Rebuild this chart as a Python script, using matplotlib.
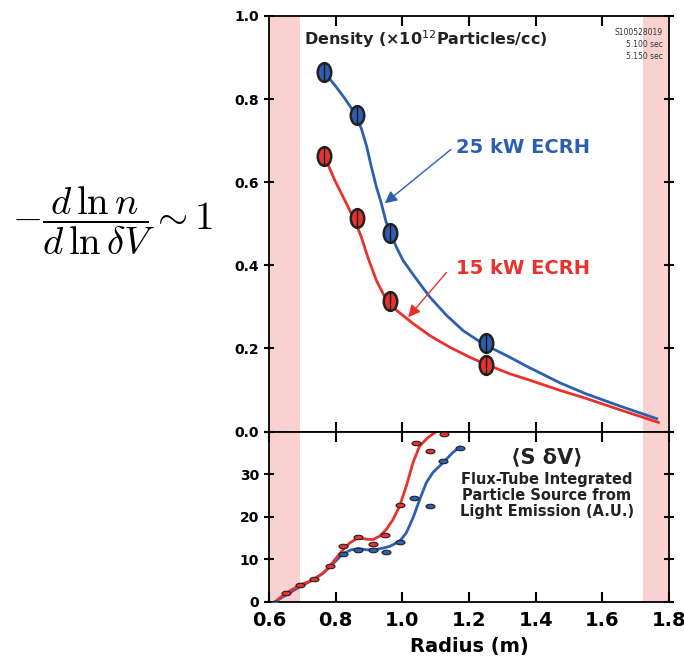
import matplotlib
matplotlib.use('Agg')
import matplotlib.pyplot as plt
from matplotlib.path import Path
from matplotlib.transforms import Affine2D

BLUE = '#2d5fb0'
RED = '#e8322b'
PINK = '#f9d1d1'

# density points (x10^12 /cc)
r_pts = [0.765, 0.864, 0.963, 1.251]
n25_pts = [0.865, 0.761, 0.477, 0.212]
n15_pts = [0.663, 0.513, 0.313, 0.159]

# fitted density curves
r25_fit = [0.767, 0.797, 0.827, 0.847, 0.860, 0.877, 0.892, 0.907, 0.922, 0.937, 0.950,
           0.962, 0.982, 1.002, 1.032, 1.082, 1.132, 1.182, 1.242, 1.322, 1.373, 1.473,
           1.55, 1.65, 1.763]
n25_fit = [0.863, 0.834, 0.802, 0.778, 0.761, 0.729, 0.689, 0.637, 0.589, 0.549, 0.508,
           0.480, 0.444, 0.412, 0.378, 0.324, 0.280, 0.243, 0.211, 0.179, 0.157, 0.117,
           0.091, 0.062, 0.031]
r15_fit = [0.767, 0.797, 0.827, 0.857, 0.877, 0.897, 0.922, 0.952, 0.982, 1.032, 1.082,
           1.142, 1.202, 1.247, 1.322, 1.373, 1.473, 1.55, 1.65, 1.768]
n15_fit = [0.661, 0.605, 0.557, 0.508, 0.468, 0.418, 0.364, 0.316, 0.292, 0.260, 0.231,
           0.203, 0.179, 0.163, 0.139, 0.126, 0.099, 0.080, 0.053, 0.022]

# source points (A.U.)
rs15_pts = [0.652, 0.692, 0.734, 0.782, 0.822, 0.867, 0.912, 0.949, 0.992, 1.040, 1.084, 1.125]
s15_pts = [2.0, 3.9, 5.3, 8.4, 13.0, 15.1, 13.6, 15.6, 22.8, 37.4, 35.4, 39.4]
rs25_pts = [0.619, 0.822, 0.867, 0.912, 0.950, 0.992, 1.035, 1.084, 1.122, 1.172]
s25_pts = [-0.3, 11.3, 12.2, 12.2, 11.6, 14.0, 24.4, 22.6, 33.0, 36.2]

rs15_fit = [0.619, 0.647, 0.692, 0.732, 0.762, 0.782, 0.802, 0.822, 0.842, 0.867, 0.892,
            0.912, 0.932, 0.952, 0.972, 0.992, 1.012, 1.032, 1.052, 1.077, 1.102, 1.122]
s15_fit = [0.0, 1.8, 3.9, 5.1, 6.7, 8.3, 10.3, 12.2, 13.8, 15.0, 14.7,
           14.6, 15.4, 17.0, 19.3, 22.5, 27.2, 32.7, 36.6, 38.6, 40.0, 40.6]
rs25_fit = [0.619, 0.647, 0.692, 0.732, 0.762, 0.782, 0.802, 0.822, 0.847, 0.867, 0.892,
            0.912, 0.937, 0.962, 0.992, 1.012, 1.032, 1.052, 1.072, 1.092, 1.112, 1.132,
            1.152, 1.172]
s25_fit = [0.0, 1.4, 3.5, 5.1, 6.7, 8.1, 9.7, 11.3, 12.2, 12.5, 12.2,
           12.2, 12.5, 13.0, 14.2, 16.2, 19.7, 24.0, 28.0, 30.4, 31.9, 33.5,
           35.1, 36.3]

bands = [(0.6, 0.693), (1.722, 1.8)]

tall = Path.unit_circle().transformed(Affine2D().scale(0.72, 1.0))
flat = Path.unit_circle().transformed(Affine2D().scale(1.0, 0.5))

fig = plt.figure(figsize=(6.84, 6.58), dpi=100)
ax = fig.add_axes([0.3933, 0.3442, 0.5848, 0.6315])
ax2 = fig.add_axes([0.3933, 0.0856, 0.5848, 0.2586])

for a in (ax, ax2):
    for lo, hi in bands:
        a.axvspan(lo, hi, color=PINK, lw=0, zorder=0)
    a.set_xlim(0.6, 1.8)
    for s in a.spines.values():
        s.set_linewidth(1.3)
    a.tick_params(which='both', width=1.5, length=7, top=True, right=True,
                  labelsize=10)

# top panel
ax.plot(r25_fit, n25_fit, color=BLUE, lw=2, zorder=2, solid_joinstyle='round')
ax.plot(r15_fit, n15_fit, color=RED, lw=2, zorder=2, solid_joinstyle='round')
for n_pts, c in ((n25_pts, BLUE), (n15_pts, RED)):
    ax.plot(r_pts, n_pts, ls='none', marker=tall, ms=13.5, mfc=c, mec='#222222',
            mew=1.8, zorder=3)
    ax.errorbar(r_pts, n_pts, yerr=0.022, fmt='none', ecolor='#111111', elinewidth=1,
                zorder=4)
ax.set_ylim(0, 1.0)
ax.set_yticks([0.0, 0.2, 0.4, 0.6, 0.8, 1.0])
ax.set_yticklabels(['0.0', '0.2', '0.4', '0.6', '0.8', '1.0'], fontweight='bold')
ax.set_xticks([0.8, 1.0, 1.2, 1.4, 1.6])
ax.tick_params(axis='x', labelbottom=False)
ax.tick_params(axis='x', which='both', bottom=True, top=True, direction='in')
ax.tick_params(axis='y', direction='inout')

ax.text(0.705, 0.945, 'Density (×10$^{12}$Particles/cc)', fontsize=11.5,
        fontweight='bold', va='center', ha='left', color='#222222')
ax.text(0.985, 0.97, 'S100528019\n5.100 sec\n5.150 sec', transform=ax.transAxes,
        fontsize=5.5, ha='right', va='top', color='#333333', linespacing=1.4)
ax.text(1.16, 0.683, '25 kW ECRH', color=BLUE, fontsize=14, fontweight='bold',
        va='center')
ax.text(1.16, 0.393, '15 kW ECRH', color=RED, fontsize=14, fontweight='bold',
        va='center')
ax.annotate('', xy=(0.941, 0.545), xytext=(1.152, 0.683),
            arrowprops=dict(arrowstyle='-|>', color=BLUE, lw=1, mutation_scale=18))
ax.annotate('', xy=(1.012, 0.27), xytext=(1.138, 0.388),
            arrowprops=dict(arrowstyle='-|>', color=RED, lw=1, mutation_scale=18))

# bottom panel
ax2.plot(rs25_fit, s25_fit, color=BLUE, lw=2, zorder=2, solid_joinstyle='round')
ax2.plot(rs15_fit, s15_fit, color=RED, lw=2, zorder=2, solid_joinstyle='round')
ax2.plot(rs15_pts, s15_pts, ls='none', marker=flat, ms=6.5, mfc=RED, mec='#222222',
         mew=0.8, zorder=3)
ax2.plot(rs25_pts, s25_pts, ls='none', marker=flat, ms=6.5, mfc=BLUE, mec='#222222',
         mew=0.8, zorder=3)
ax2.set_ylim(0, 40)
ax2.set_yticks([0, 10, 20, 30, 40])
ax2.set_yticklabels(['0', '10', '20', '30', ''], fontweight='bold')
ax2.set_xticks([0.6, 0.8, 1.0, 1.2, 1.4, 1.6, 1.8])
ax2.set_xticklabels(['0.6', '0.8', '1.0', '1.2', '1.4', '1.6', '1.8'],
                    fontweight='bold', fontsize=14)
ax2.tick_params(axis='x', direction='in', pad=7)
ax2.tick_params(axis='y', direction='inout')
ax2.set_xlabel('Radius (m)', fontsize=14, fontweight='bold', labelpad=5)

ax2.text(1.433, 34.0, '⟨S δV⟩', fontsize=15, fontweight='bold', ha='center',
         va='center', color='#222222')
ax2.text(1.433, 25.0, 'Flux-Tube Integrated\nParticle Source from\nLight Emission (A.U.)',
         fontsize=10.5, fontweight='bold', ha='center', va='center', color='#222222',
         linespacing=1.1)

fig.text(0.164, 0.665, r'$-\dfrac{d\,\ln n}{d\,\ln \delta V} \sim 1$', fontsize=28,
         ha='center', va='center', math_fontfamily='cm')

fig.savefig('out.png', dpi=100)
